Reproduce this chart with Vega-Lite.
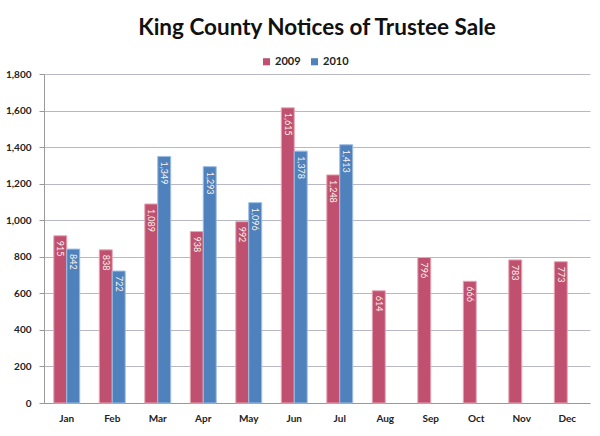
{
  "$schema": "https://vega.github.io/schema/vega-lite/v6.json",
  "width": 546,
  "height": 329,
  "autosize": {"type": "none"},
  "padding": {"left": 44, "top": 74, "right": 10, "bottom": 33},
  "background": "white",
  "title": {
    "text": "King County Notices of Trustee Sale",
    "anchor": "middle",
    "font": "Lato",
    "fontSize": 22.5,
    "fontWeight": "bold",
    "color": "#111111",
    "offset": 17
  },
  "data": {
    "values": [
      {"month": "Jan", "year": "2009", "value": 915},
      {"month": "Feb", "year": "2009", "value": 838},
      {"month": "Mar", "year": "2009", "value": 1089},
      {"month": "Apr", "year": "2009", "value": 938},
      {"month": "May", "year": "2009", "value": 992},
      {"month": "Jun", "year": "2009", "value": 1615},
      {"month": "Jul", "year": "2009", "value": 1248},
      {"month": "Aug", "year": "2009", "value": 614},
      {"month": "Sep", "year": "2009", "value": 796},
      {"month": "Oct", "year": "2009", "value": 666},
      {"month": "Nov", "year": "2009", "value": 783},
      {"month": "Dec", "year": "2009", "value": 773},
      {"month": "Jan", "year": "2010", "value": 842},
      {"month": "Feb", "year": "2010", "value": 722},
      {"month": "Mar", "year": "2010", "value": 1349},
      {"month": "Apr", "year": "2010", "value": 1293},
      {"month": "May", "year": "2010", "value": 1096},
      {"month": "Jun", "year": "2010", "value": 1378},
      {"month": "Jul", "year": "2010", "value": 1413}
    ]
  },
  "encoding": {
    "x": {
      "field": "month",
      "type": "nominal",
      "sort": ["Jan","Feb","Mar","Apr","May","Jun","Jul","Aug","Sep","Oct","Nov","Dec"],
      "scale": {"paddingInner": 0.43, "paddingOuter": 0.215},
      "axis": {
        "title": null,
        "labelAngle": 0,
        "labelFont": "Lato",
        "labelFontSize": 10,
        "labelFontWeight": "bold",
        "labelColor": "#222222",
        "labelPadding": 10,
        "ticks": false,
        "domainColor": "#999999",
        "grid": false
      }
    },
    "xOffset": {"field": "year", "type": "nominal", "scale": {"paddingInner": 0, "paddingOuter": 0}},
    "y": {
      "field": "value",
      "type": "quantitative",
      "scale": {"domain": [0, 1800], "nice": false},
      "axis": {
        "title": null,
        "values": [0,200,400,600,800,1000,1200,1400,1600,1800],
        "format": ",d",
        "labelFont": "Lato",
        "labelFontSize": 10,
        "labelFontWeight": "bold",
        "labelColor": "#222222",
        "labelPadding": 8,
        "tickSize": 5,
        "tickColor": "#999999",
        "domainColor": "#999999",
        "gridColor": "#b8b8c4",
        "gridWidth": 1
      }
    }
  },
  "layer": [
    {
      "mark": {"type": "bar", "strokeWidth": 1},
      "encoding": {
        "color": {
          "field": "year",
          "type": "nominal",
          "scale": {"domain": ["2009", "2010"], "range": ["#c0506f", "#4f81bd"]},
          "legend": {
            "title": null,
            "orient": "none",
            "direction": "horizontal",
            "legendX": 217,
            "legendY": -18,
            "symbolType": "square",
            "symbolSize": 50,
            "symbolStrokeWidth": 0,
            "labelFont": "Lato",
            "labelFontSize": 11,
            "labelFontWeight": "bold",
            "labelColor": "#222222",
            "columnPadding": 8,
            "labelOffset": 3
          }
        },
        "stroke": {
          "field": "year",
          "type": "nominal",
          "scale": {"domain": ["2009", "2010"], "range": ["#e6a7b4", "#9dbde3"]},
          "legend": null
        }
      }
    },
    {
      "mark": {
        "type": "text",
        "angle": 90,
        "align": "left",
        "baseline": "middle",
        "dx": 5,
        "font": "Lato",
        "fontSize": 9,
        "color": "#fbf3ea"
      },
      "encoding": {
        "text": {"field": "value", "type": "quantitative", "format": ","}
      }
    }
  ],
  "config": {
    "view": {"stroke": null}
  }
}
